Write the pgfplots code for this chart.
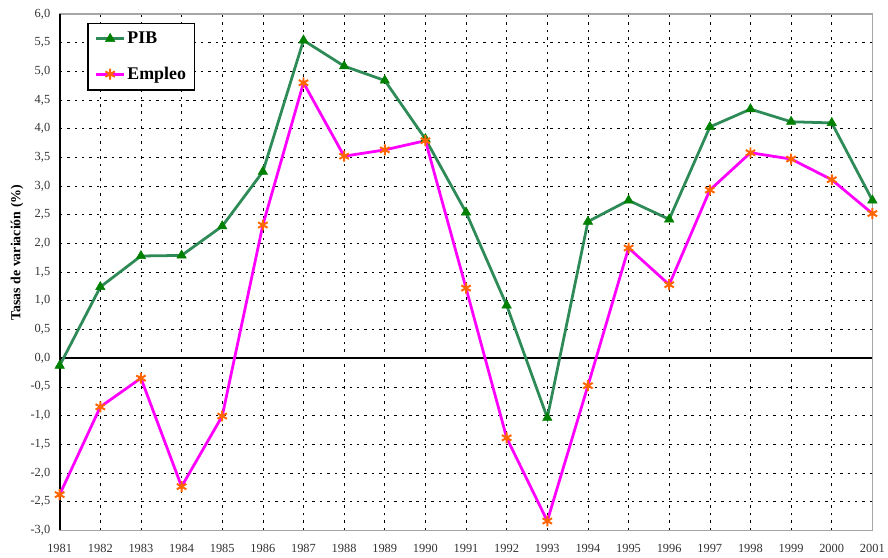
\documentclass[border=0pt]{standalone}
\usepackage{pgfplots}
\pgfplotsset{compat=1.18}
\usepackage{fontspec}
\setmainfont{Liberation Serif}
\definecolor{pibline}{RGB}{46,139,87}
\definecolor{pibmark}{RGB}{0,128,0}
\definecolor{empline}{RGB}{255,0,255}
\definecolor{empmark}{RGB}{255,102,0}
\begin{document}
\begin{tikzpicture}
\begin{axis}[
  scale only axis,
  width=817bp, height=519bp,
  xmin=1981, xmax=2001,
  ymin=-3, ymax=6,
  xtick={1981,...,2001},
  ytick={-3,-2.5,...,6},
  /pgf/number format/assume math mode=true,
  xticklabel style={/pgf/number format/1000 sep={}, font=\fontsize{12.5}{14}\selectfont, yshift=-11bp, text=black!80},
  yticklabel style={/pgf/number format/.cd, use comma, fixed, fixed zerofill, precision=1, /tikz/.cd, font=\fontsize{12.5}{14}\selectfont, xshift=-6bp, text=black!80},
  ylabel={Tasas de variación (\%)},
  ylabel style={at={(rel axis cs:-0.0526,0.5376)}, anchor=center, font=\bfseries\fontsize{14}{16}\selectfont},
  major tick length=0pt,
  grid=major,
  major grid style={black, line width=0.5pt, dash pattern=on 2.5pt off 5pt},
  axis line style={gray!70, line width=1.2pt},
  legend style={at={(0.034,0.983)}, anchor=north west, draw=black, line width=1.2pt,
    font=\bfseries\fontsize{18}{20}\selectfont, inner sep=7pt, row sep=18pt},
  legend cell align=left,
  legend image code/.code={\draw[mark repeat=2,mark phase=2,line width=2.8pt] plot coordinates {(0bp,0bp) (14bp,0bp) (28bp,0bp)};},
  clip=false,
]
\draw[black, line width=1.5pt] (axis cs:1981,0) -- (axis cs:2001,0);
\draw[black, line width=2pt] (rel axis cs:0,0) -- (rel axis cs:0,1);
\addplot[color=pibline, line width=2.8pt, mark=triangle*, mark size=5.5pt,
  mark options={fill=pibmark, draw=pibmark, solid, line width=0.5pt}] coordinates {
(1981,-0.13) (1982,1.24) (1983,1.78) (1984,1.79) (1985,2.30) (1986,3.25)
(1987,5.54) (1988,5.09) (1989,4.84) (1990,3.82) (1991,2.54) (1992,0.92)
(1993,-1.04) (1994,2.38) (1995,2.75) (1996,2.42) (1997,4.03) (1998,4.34)
(1999,4.12) (2000,4.10) (2001,2.75)};
\addlegendentry{PIB}
\addplot[color=empline, line width=2.8pt, mark=asterisk, mark size=5.5pt,
  mark options={draw=empmark, line width=2pt, solid}] coordinates {
(1981,-2.38) (1982,-0.85) (1983,-0.35) (1984,-2.24) (1985,-1.01) (1986,2.32)
(1987,4.80) (1988,3.52) (1989,3.63) (1990,3.79) (1991,1.22) (1992,-1.39)
(1993,-2.84) (1994,-0.48) (1995,1.92) (1996,1.28) (1997,2.93) (1998,3.58)
(1999,3.47) (2000,3.11) (2001,2.52)};
\addlegendentry{Empleo}
\end{axis}
\path (current axis.south west) ++(-60bp,-27bp) coordinate (bl);
\path (current axis.north east) ++(11bp,14bp) coordinate (tr);
\path (bl) rectangle (tr);
\end{tikzpicture}
\end{document}
